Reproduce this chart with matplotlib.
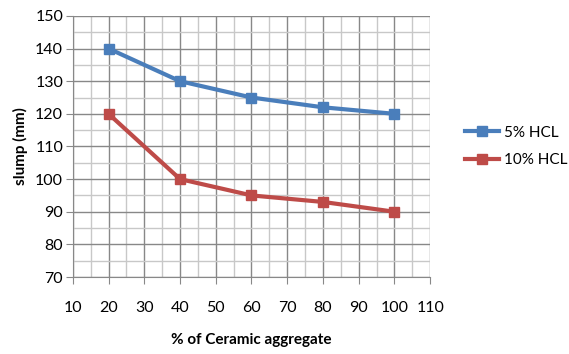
import matplotlib
matplotlib.use("Agg")
import matplotlib.pyplot as plt
from matplotlib.ticker import MultipleLocator

# data
ceramic = [20, 40, 60, 80, 100]
hcl_5 = [140, 130, 125, 122, 120]
hcl_10 = [120, 100, 95, 93, 90]

plt.rcParams['font.family'] = ['Lato', 'DejaVu Sans']

fig = plt.figure(figsize=(5.69, 3.54), dpi=100)
ax = fig.add_axes([0.128, 0.2175, 0.628, 0.7375])

ax.plot(ceramic, hcl_5, color='#4a7ebb', lw=3, marker='s', ms=7, label='5% HCL', zorder=3)
ax.plot(ceramic, hcl_10, color='#be4b48', lw=3, marker='s', ms=7, label='10% HCL', zorder=3)

ax.set_xlim(10, 110)
ax.set_ylim(70, 150)
ax.xaxis.set_major_locator(MultipleLocator(10))
ax.xaxis.set_minor_locator(MultipleLocator(5))
ax.yaxis.set_major_locator(MultipleLocator(10))
ax.yaxis.set_minor_locator(MultipleLocator(5))
ax.grid(which='major', color='#888888', lw=1)
ax.grid(which='minor', color='#c8c8c8', lw=1)
ax.set_axisbelow(True)

for s in ['top', 'right']:
    ax.spines[s].set_visible(False)
ax.spines['left'].set_color('#888888')
ax.spines['bottom'].set_color('#888888')
ax.tick_params(which='major', length=5, color='#888888', labelsize=11.5, pad=2)
ax.tick_params(which='minor', length=0)
ax.tick_params(axis='x', pad=12)

ax.set_xlabel('% of Ceramic aggregate', fontsize=11, fontweight='bold', labelpad=13)
ax.set_ylabel('slump (mm)', fontsize=11, fontweight='bold', labelpad=5)

ax.legend(loc='center left', bbox_to_anchor=(1.06, 0.50), frameon=False,
          fontsize=11, handlelength=2.2, labelspacing=0.9, handletextpad=0.3)

fig.savefig('out.png', dpi=100)
